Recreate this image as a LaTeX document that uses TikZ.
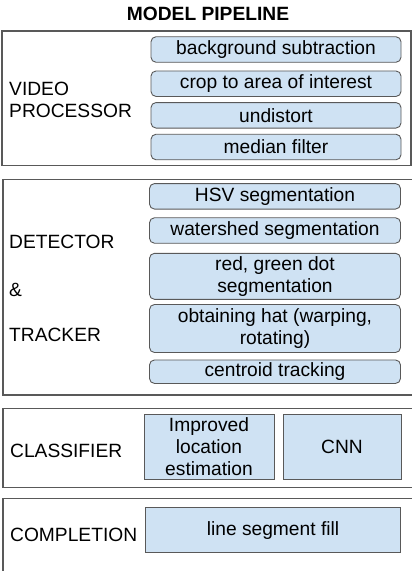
\documentclass[tikz,border=0pt]{standalone}
\usepackage{fontspec}
\setmainfont{Liberation Sans}
\definecolor{boxfill}{HTML}{CFE2F3}
\definecolor{edge}{HTML}{595959}
\begin{document}
\begin{tikzpicture}[x=1pt,y=-1pt,
  every node/.style={font=\fontsize{19.2}{22}\selectfont, text=black},
  stagebox/.style={draw=edge, line width=0.9pt, fill=boxfill, rounded corners=5pt, inner sep=0pt, align=center},
  sharpbox/.style={draw=edge, line width=0.9pt, fill=boxfill, inner sep=0pt, align=center},
  lbl/.style={anchor=west, inner sep=0pt, align=left}]
\useasboundingbox (0,0) rectangle (412,571);
% title
\node[font=\fontsize{19.2}{22}\selectfont\bfseries] (title) at (208,14) {MODEL PIPELINE};
% outer boxes
\draw[draw=edge, line width=1.4pt] (2,31) rectangle (411,165.5);
\draw[draw=edge, line width=1.4pt] (3,179.5) rectangle (418,395);
\draw[draw=edge, line width=1.4pt] (3,408.5) rectangle (418,487.5);
\draw[draw=edge, line width=1.4pt] (3,498.5) rectangle (418,571.5);
% video processor
\node[lbl] (vp) at (9,99.5) {VIDEO\\PROCESSOR};
\node[stagebox, minimum width=250pt, minimum height=25.5pt] (bg) at (276,49.5) {background subtraction};
\node[stagebox, minimum width=250pt, minimum height=25.5pt] (crop) at (276,83.7) {crop to area of interest};
\node[stagebox, minimum width=250pt, minimum height=25.5pt] (und) at (276,115.3) {undistort};
\node[stagebox, minimum width=250pt, minimum height=25.5pt] (med) at (276,147) {median filter};
% detector & tracker
\node[lbl] (det) at (9,242) {DETECTOR};
\node[lbl] (amp) at (9,290) {\&};
\node[lbl] (trk) at (9,335) {TRACKER};
\node[stagebox, minimum width=251pt, minimum height=25.5pt] (hsv) at (275,196.3) {HSV segmentation};
\node[stagebox, minimum width=251pt, minimum height=25.5pt] (ws) at (275,230.5) {watershed segmentation};
\node[stagebox, minimum width=251pt, minimum height=46pt] (rg) at (275,276.3) {red, green dot\\segmentation};
\node[stagebox, minimum width=251pt, minimum height=48pt] (hat) at (275,328.5) {obtaining hat (warping,\\rotating)};
\node[stagebox, minimum width=251pt, minimum height=23.5pt] (cen) at (275,371.7) {centroid tracking};
% classifier
\node[lbl] (cls) at (10,451) {CLASSIFIER};
\node[sharpbox, minimum width=130pt, minimum height=65pt] (imp) at (209,447) {Improved\\location\\estimation};
\node[sharpbox, minimum width=118pt, minimum height=65pt] (cnn) at (342,447) {CNN};
% completion
\node[lbl] (cmp) at (10,535) {COMPLETION};
\node[sharpbox, minimum width=254.5pt, minimum height=45pt] (lsf) at (273,530.2) {line segment fill};
\end{tikzpicture}
\end{document}
